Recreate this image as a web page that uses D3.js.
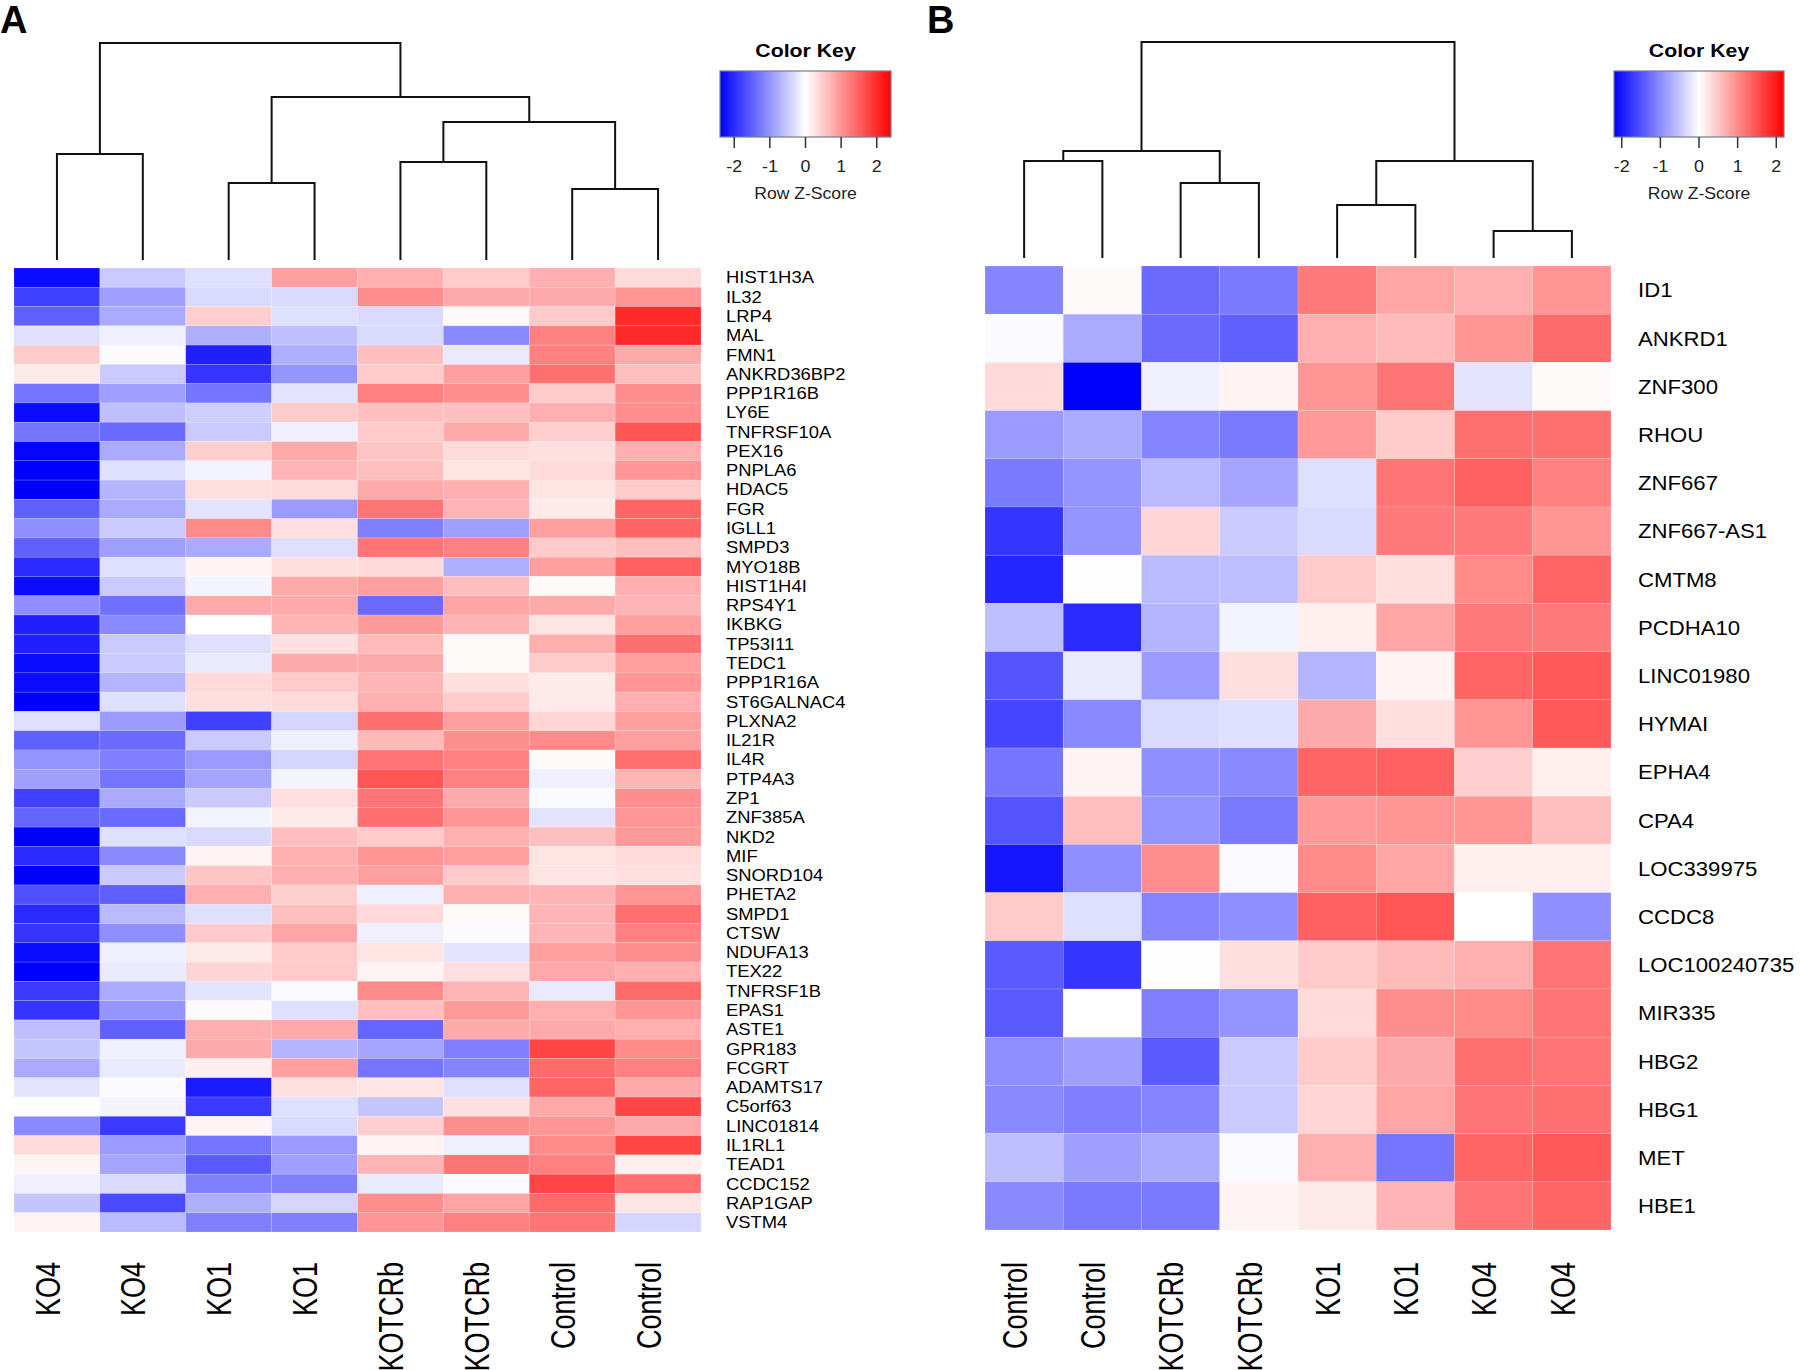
<!DOCTYPE html>
<html><head><meta charset="utf-8">
<script src="https://cdn.jsdelivr.net/npm/d3@7"></script>
<style>html,body{margin:0;padding:0;background:#fff;}svg{display:block;font-family:"Liberation Sans",Arial,sans-serif;}</style>
</head><body>
<script>
// ---------- DATA ----------
const colsA = ["KO4","KO4","KO1","KO1","KOTCRb","KOTCRb","Control","Control"];
const genesA = ["HIST1H3A","IL32","LRP4","MAL","FMN1","ANKRD36BP2","PPP1R16B","LY6E","TNFRSF10A","PEX16",
 "PNPLA6","HDAC5","FGR","IGLL1","SMPD3","MYO18B","HIST1H4I","RPS4Y1","IKBKG","TP53I11",
 "TEDC1","PPP1R16A","ST6GALNAC4","PLXNA2","IL21R","IL4R","PTP4A3","ZP1","ZNF385A","NKD2",
 "MIF","SNORD104","PHETA2","SMPD1","CTSW","NDUFA13","TEX22","TNFRSF1B","EPAS1","ASTE1",
 "GPR183","FCGRT","ADAMTS17","C5orf63","LINC01814","IL1RL1","TEAD1","CCDC152","RAP1GAP","VSTM4"];
const zA = [
 [-2.3,-0.5,-0.3,0.9,0.75,0.5,0.75,0.35],
 [-1.8,-0.9,-0.35,-0.35,1.05,0.8,0.8,1.0],
 [-1.5,-0.8,0.45,-0.3,-0.35,0.05,0.5,2.0],
 [-0.3,-0.15,-0.75,-0.6,-0.35,-1.1,1.2,2.0],
 [0.5,-0.05,-2.1,-0.75,0.6,-0.2,1.2,0.8],
 [0.2,-0.5,-1.9,-1.0,0.5,0.9,1.35,0.6],
 [-1.3,-0.9,-1.3,-0.25,1.2,1.05,0.5,1.05],
 [-2.3,-0.6,-0.45,0.5,0.6,0.6,0.75,1.05],
 [-1.3,-1.4,-0.5,-0.15,0.5,0.8,0.45,1.6],
 [-2.35,-0.8,0.45,0.8,0.55,0.35,0.3,0.75],
 [-2.4,-0.3,-0.1,0.7,0.6,0.25,0.35,1.0],
 [-2.4,-0.7,0.3,0.35,0.8,0.75,0.25,0.5],
 [-1.5,-0.8,-0.25,-0.95,1.3,0.7,0.2,1.45],
 [-1.05,-0.5,1.1,0.3,-1.2,-0.9,0.9,1.45],
 [-1.5,-0.9,-0.8,-0.3,1.3,1.2,0.5,0.6],
 [-2.0,-0.3,0.1,0.3,0.35,-0.75,0.9,1.5],
 [-2.3,-0.5,-0.1,0.8,0.9,0.6,0.05,0.75],
 [-1.05,-1.35,0.8,0.8,-1.4,0.85,0.8,0.7],
 [-2.1,-1.1,0.0,0.7,0.95,0.7,0.25,0.9],
 [-2.1,-0.5,-0.3,0.3,0.65,0.05,0.75,1.35],
 [-2.3,-0.5,-0.2,0.8,0.8,0.05,0.5,0.9],
 [-2.3,-0.7,0.35,0.5,0.7,0.3,0.2,1.0],
 [-2.4,-0.3,0.3,0.35,0.75,0.5,0.2,0.75],
 [-0.3,-0.95,-1.8,-0.4,1.35,0.9,0.4,0.9],
 [-1.5,-1.4,-0.5,-0.15,0.65,1.05,1.1,0.9],
 [-1.0,-1.2,-0.95,-0.4,1.3,1.2,0.05,1.35],
 [-0.9,-1.3,-0.85,-0.1,1.6,1.2,-0.15,0.7],
 [-1.8,-0.8,-0.5,0.3,1.3,0.8,-0.05,1.05],
 [-1.45,-1.4,-0.1,0.2,1.35,1.0,-0.25,1.0],
 [-2.4,-0.3,-0.35,0.6,0.5,0.75,0.6,0.95],
 [-2.0,-1.1,0.1,0.75,1.0,0.9,0.25,0.35],
 [-2.4,-0.5,0.55,0.75,0.9,0.5,0.25,0.3],
 [-1.65,-1.5,0.75,0.45,-0.15,0.75,0.7,1.0],
 [-2.0,-0.65,-0.3,0.6,0.35,0.05,0.7,1.35],
 [-1.9,-1.05,0.5,0.85,-0.15,-0.05,0.7,1.2],
 [-2.3,-0.15,0.2,0.5,0.25,-0.25,0.9,1.05],
 [-2.4,-0.2,0.4,0.5,0.1,0.3,0.8,0.75],
 [-1.85,-0.8,-0.25,-0.05,1.1,0.7,-0.2,1.4],
 [-1.9,-1.0,0.05,-0.3,0.6,0.95,0.75,1.0],
 [-0.6,-1.5,0.75,0.8,-1.45,0.8,0.8,0.75],
 [-0.55,-0.15,0.8,-0.7,-0.85,-1.2,1.75,1.1],
 [-0.8,-0.2,0.15,0.9,-1.3,-1.15,1.4,1.2],
 [-0.25,-0.05,-2.15,0.3,0.25,-0.3,1.45,0.8],
 [0.0,-0.1,-1.85,-0.3,-0.55,0.3,0.8,1.75],
 [-1.1,-1.85,0.1,-0.35,0.45,1.05,1.0,0.8],
 [0.35,-0.95,-1.3,-0.95,0.1,-0.15,1.1,1.75],
 [0.1,-0.85,-1.55,-0.9,0.7,1.3,1.2,0.15],
 [-0.15,-0.35,-1.2,-1.2,-0.2,-0.05,1.75,1.35],
 [-0.55,-1.7,-0.75,-0.4,1.05,0.85,1.4,0.25],
 [0.1,-0.65,-1.2,-1.2,1.0,1.2,1.3,-0.4]
];
const colsB = ["Control","Control","KOTCRb","KOTCRb","KO1","KO1","KO4","KO4"];
const genesB = ["ID1","ANKRD1","ZNF300","RHOU","ZNF667","ZNF667-AS1","CMTM8","PCDHA10","LINC01980","HYMAI",
 "EPHA4","CPA4","LOC339975","CCDC8","LOC100240735","MIR335","HBG2","HBG1","MET","HBE1"];
const zB = [
 [-1.15,0.05,-1.4,-1.25,1.25,0.85,0.75,1.0],
 [-0.05,-0.8,-1.4,-1.5,0.75,0.65,1.0,1.4],
 [0.35,-2.4,-0.15,0.1,1.0,1.3,-0.25,0.05],
 [-0.95,-0.8,-1.15,-1.25,0.95,0.5,1.35,1.35],
 [-1.25,-1.0,-0.65,-0.85,-0.3,1.3,1.5,1.2],
 [-1.9,-1.0,0.4,-0.5,-0.35,1.25,1.25,1.0],
 [-2.05,-0.02,-0.65,-0.6,0.5,0.3,1.1,1.45],
 [-0.6,-2.0,-0.7,-0.1,0.15,0.85,1.25,1.25],
 [-1.6,-0.2,-0.95,0.3,-0.7,0.1,1.45,1.55],
 [-1.75,-1.1,-0.35,-0.3,0.8,0.3,1.0,1.55],
 [-1.3,0.1,-1.05,-1.1,1.45,1.5,0.45,0.15],
 [-1.6,0.6,-1.0,-1.25,0.95,1.0,1.0,0.6],
 [-2.2,-1.05,1.05,-0.05,1.1,0.85,0.15,0.15],
 [0.5,-0.3,-1.15,-1.05,1.5,1.6,0.0,-1.05],
 [-1.55,-1.9,-0.02,0.3,0.5,0.65,0.75,1.3],
 [-1.55,0.0,-1.2,-1.0,0.35,1.05,1.1,1.3],
 [-1.05,-0.9,-1.55,-0.5,0.5,0.8,1.35,1.3],
 [-1.1,-1.2,-1.15,-0.5,0.4,0.85,1.3,1.35],
 [-0.6,-0.9,-0.8,-0.05,0.75,-1.3,1.45,1.55],
 [-1.1,-1.25,-1.25,0.1,0.2,0.7,1.3,1.45]
];
// dendrograms: [left, right, height] ; leaves are column indices
const treeA = [[0,1,0.488],[[2,3,0.355],[[4,5,0.452],[6,7,0.327],0.636],0.751],1.0];
const treeB = [[[0,1,0.449],[2,3,0.347],0.495],[[4,5,0.245],[6,7,0.125],0.449],1.0];
const keyTicks = [-2,-1,0,1,2];

// ---------- DRAW ----------
const W = 1800, H = 1370;
const svg = d3.select("body").append("svg").attr("width", W).attr("height", H);
const color = d3.scaleLinear().domain([-2.4,0,2.4]).range(["#0000ff","#ffffff","#ff0000"]).clamp(true);

function stretchText(parent, x, y, txt, opts) {
  const g = parent.append("g").attr("transform", `translate(${x},${y}) scale(${opts.sx||1},1)` + (opts.rot ? ` rotate(${opts.rot})` : ""));
  return g.append("text").text(txt)
    .attr("font-size", opts.size).attr("font-weight", opts.weight || "normal")
    .attr("text-anchor", opts.anchor || "start").attr("fill", opts.fill || "#000")
    .attr("dy", opts.dy || 0);
}

function panel(cfg) {
  const g = svg.append("g");
  const x = d3.scaleBand().domain(d3.range(cfg.cols.length)).range(cfg.xr);
  const y = d3.scaleBand().domain(d3.range(cfg.genes.length)).range(cfg.yr);
  // cells
  cfg.z.forEach((row, r) => {
    g.append("g").selectAll("rect").data(row).join("rect")
      .attr("x", (d, c) => x(c)).attr("y", y(r))
      .attr("width", x.bandwidth()).attr("height", y.bandwidth())
      .attr("fill", d => color(d))
      .attr("stroke", "#ffffff").attr("stroke-opacity", 0.25).attr("stroke-width", 0.6);
  });
  // row labels
  cfg.genes.forEach((gname, r) => {
    stretchText(g, cfg.labelX, y(r) + y.bandwidth() / 2, gname, {size: cfg.rowFont, sx: cfg.rowSx, dy: "0.36em"});
  });
  // column labels (rotated)
  cfg.cols.forEach((cname, c) => {
    const cx = x(c) + x.bandwidth() / 2 - 10 + 0.36 * 27 * 1.3;
    stretchText(g, cx, cfg.colLabelY, cname, {size: 27, sx: 1.3, rot: -90, anchor: "end"});
  });
  // dendrogram
  const yD = d3.scaleLinear().domain([0, 1]).range([cfg.leafY, cfg.rootY]);
  function draw(node) {
    if (typeof node === "number") return {x: x(node) + x.bandwidth() / 2, y: cfg.leafY};
    const l = draw(node[0]), r = draw(node[1]), hy = yD(node[2]);
    g.append("path").attr("d", `M${l.x},${l.y}V${hy}H${r.x}V${r.y}`)
      .attr("fill", "none").attr("stroke", "#111").attr("stroke-width", 2);
    return {x: (l.x + r.x) / 2, y: hy};
  }
  draw(cfg.tree);
  // color key
  const kx = d3.scaleLinear().domain(cfg.keyDomain).range(cfg.keyXr);
  const gid = "grad" + cfg.id;
  const grad = svg.append("defs").append("linearGradient").attr("id", gid);
  [[0,"#0000ff"],[0.5,"#ffffff"],[1,"#ff0000"]].forEach(s => grad.append("stop").attr("offset", s[0]).attr("stop-color", s[1]));
  g.append("rect").attr("x", cfg.keyXr[0]).attr("y", 71).attr("width", cfg.keyXr[1] - cfg.keyXr[0]).attr("height", 66)
    .attr("fill", `url(#${gid})`).attr("stroke", "#6f7f8c").attr("stroke-width", 1.2);
  const kc = (cfg.keyXr[0] + cfg.keyXr[1]) / 2;
  stretchText(g, kc, 57, "Color Key", {size: 19, sx: 1.12, weight: "bold", anchor: "middle"});
  keyTicks.forEach(t => {
    g.append("line").attr("x1", kx(t)).attr("x2", kx(t)).attr("y1", 137).attr("y2", 148)
      .attr("stroke", "#333").attr("stroke-width", 1.5);
    stretchText(g, kx(t), 172, String(t), {size: 17, sx: 1.05, anchor: "middle", fill: "#222"});
  });
  stretchText(g, kc, 199, "Row Z-Score", {size: 16, sx: 1.1, anchor: "middle", fill: "#222"});
  // panel letter
  g.append("text").attr("x", cfg.letterX).attr("y", 33).text(cfg.letter)
    .attr("font-size", 38).attr("font-weight", "bold").attr("fill", "#000");
}

panel({id: "A", letter: "A", letterX: 0, cols: colsA, genes: genesA, z: zA, tree: treeA,
  xr: [14, 701], yr: [268, 1232], labelX: 726, rowFont: 16, rowSx: 1.15, colLabelY: 1262,
  leafY: 260, rootY: 43, keyDomain: [-2.4, 2.4], keyXr: [720, 891]});
panel({id: "B", letter: "B", letterX: 927, cols: colsB, genes: genesB, z: zB, tree: treeB,
  xr: [985, 1611], yr: [266, 1230], labelX: 1638, rowFont: 20.5, rowSx: 1.08, colLabelY: 1262,
  leafY: 258, rootY: 42, keyDomain: [-2.2, 2.2], keyXr: [1614, 1784]});
</script>
</body></html>
